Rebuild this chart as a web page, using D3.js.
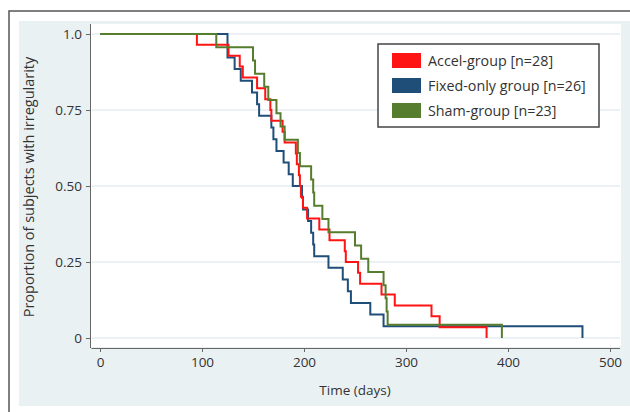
<!DOCTYPE html>
<html>
<head>
<meta charset="utf-8">
<script src="https://cdn.jsdelivr.net/npm/d3@7"></script>
<style>
  body { margin: 0; background: #fff; }
  svg { display: block; font-family: "Open Sans", sans-serif; }
</style>
</head>
<body>
<svg id="chart" width="630" height="412"></svg>
<script>
// Kaplan-Meier steps: [day, proportion after event]
const accel = [[0,1],[95,27/28],[126,26/28],[137,25/28],[140,24/28],[154,23/28],[162,22/28],[167,21/28],[168,20/28],[179,19/28],[181,18/28],[192,17/28],[193,16/28],[195,15/28],[196,14/28],[197,13/28],[199,12/28],[203,11/28],[215,10/28],[225,9/28],[240,8/28],[241,7/28],[253,6/28],[255,5/28],[276,4/28],[289,3/28],[325,2/28],[333,1/28],[379,0]]
const fixedOnly = [[0,1],[125,24/26],[132,23/26],[138,22/26],[149,21/26],[154,20/26],[156,19/26],[168,18/26],[170,17/26],[173,16/26],[180,15/26],[185,14/26],[189,13/26],[198,12/26],[199,11/26],[204,10/26],[207,9/26],[209,8/26],[210,7/26],[224,6/26],[238,5/26],[243,4/26],[246,3/26],[265,2/26],[278,1/26],[473,0]]
const sham = [[0,1],[114,22/23],[150,21/23],[152,20/23],[161,19/23],[165,18/23],[173,17/23],[177,16/23],[181,15/23],[194,14/23],[196,13/23],[207,12/23],[209,11/23],[210,10/23],[218,9/23],[224,8/23],[250,7/23],[256,6/23],[263,5/23],[278,4/23],[280,3/23],[281,2/23],[282,1/23],[394,0]]

const groups = ['Accel-group [n=28]', 'Fixed-only group [n=26]', 'Sham-group [n=23]']
const colors = ['#ff1414', '#1f4e79', '#567d2e']
const xTicks = [0, 100, 200, 300, 400, 500]
const yTicks = [0, 0.25, 0.5, 0.75, 1]
const yLabels = ['0', '0.25', '0.50', '0.75', '1.0']

const svg = d3.select('#chart')

// outer frame
svg.append('path').attr('d', 'M9,412V11H630').attr('fill', 'none').attr('stroke', '#555').attr('stroke-width', 1.5)
svg.append('rect').attr('x', 19).attr('y', 21).attr('width', 611).attr('height', 385).attr('fill', '#eaf1f3')
svg.append('rect').attr('x', 91).attr('y', 24).attr('width', 530).attr('height', 323).attr('fill', '#fff')

const x = d3.scaleLinear().domain([0, 500]).range([100, 610])
const y = d3.scaleLinear().domain([0, 1]).range([338, 34])

// gridlines
svg.append('g').selectAll('line').data(yTicks).enter().append('line')
    .attr('x1', 92).attr('x2', 620)
    .attr('y1', d => y(d)).attr('y2', d => y(d))
    .attr('stroke', '#e4edf1').attr('stroke-width', 1.5)

// axes
const xAxis = svg.append('g').attr('transform', 'translate(0,348)')
    .call(d3.axisBottom(x).tickValues(xTicks).tickSize(4).tickPadding(5))
xAxis.select('.domain').attr('d', 'M91.5,0.5H620')
const yAxis = svg.append('g').attr('transform', 'translate(90,0)')
    .call(d3.axisLeft(y).tickValues(yTicks).tickFormat((d, i) => yLabels[i]).tickSize(4).tickPadding(4))
yAxis.select('.domain').attr('d', 'M0.5,24V348')
svg.selectAll('.domain, .tick line').attr('stroke', '#666')
svg.selectAll('.tick text').attr('fill', '#333').style('font-size', '13.5px').style('font-family', '"Open Sans", sans-serif')

svg.append('text').attr('x', 355).attr('y', 395).attr('text-anchor', 'middle')
    .attr('fill', '#333').style('font-size', '13.5px').text('Time (days)')
svg.append('text').attr('transform', 'translate(34,187) rotate(-90)').attr('text-anchor', 'middle')
    .attr('fill', '#333').style('font-size', '14.5px').text('Proportion of subjects with irregularity')

// curves
const line = d3.line().x(d => x(d[0])).y(d => y(d[1])).curve(d3.curveStepAfter)
const series = [fixedOnly, accel, sham]
const seriesColors = [colors[1], colors[0], colors[2]]
svg.append('g').selectAll('path').data(series).enter().append('path')
    .attr('d', line)
    .attr('fill', 'none')
    .attr('stroke', (d, i) => seriesColors[i])
    .attr('stroke-width', 2)

// legend
const lg = svg.append('g')
lg.append('rect').attr('x', 378).attr('y', 44).attr('width', 221).attr('height', 83)
    .attr('fill', '#fff').attr('stroke', '#444').attr('stroke-width', 1.5)
const rows = lg.selectAll('g.row').data(groups).enter().append('g')
    .attr('transform', (d, i) => `translate(392,${53 + i * 25})`)
rows.append('rect').attr('width', 29).attr('height', 15).attr('fill', (d, i) => colors[i])
rows.append('text').attr('x', 36).attr('y', 12.5).attr('fill', '#333')
    .style('font-size', '14.3px').text(d => d)
</script>
</body>
</html>
